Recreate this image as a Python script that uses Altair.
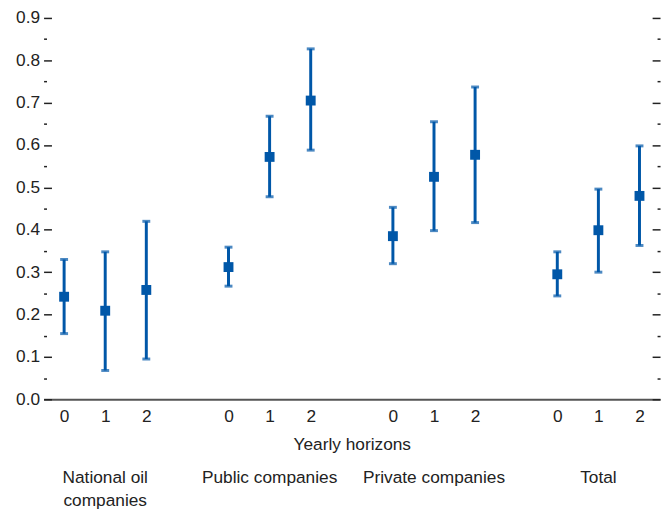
import altair as alt
import pandas as pd

# ---- data ----
groups = ["National oil companies", "Public companies", "Private companies", "Total"]
group_labels = ["National oil\ncompanies", "Public companies", "Private companies", "Total"]
horizons = [0, 1, 2]
estimates = [[0.242, 0.209, 0.258], [0.312, 0.572, 0.705], [0.385, 0.525, 0.577], [0.295, 0.399, 0.480]]
lower = [[0.155, 0.068, 0.095], [0.267, 0.478, 0.588], [0.320, 0.398, 0.417], [0.244, 0.300, 0.363]]
upper = [[0.330, 0.348, 0.420], [0.359, 0.668, 0.827], [0.453, 0.655, 0.737], [0.348, 0.496, 0.598]]
y_major = [0.0, 0.1, 0.2, 0.3, 0.4, 0.5, 0.6, 0.7, 0.8, 0.9]
y_minor = [0.05, 0.15, 0.25, 0.35, 0.45, 0.55, 0.65, 0.75, 0.85]

BLUE = "#0057A8"
FONT = "Liberation Sans"
FS = 17.5
TXT = "#222222"

rows = []
for gi, g in enumerate(groups):
    for hi, h in enumerate(horizons):
        rows.append({"group": g, "h": h, "pos": gi * 4 + hi,
                     "val": estimates[gi][hi], "lo": lower[gi][hi], "hi": upper[gi][hi]})
df = pd.DataFrame(rows)
lab_df = pd.DataFrame({"pos": [gi * 4 + 1 for gi in range(len(groups))], "label": group_labels})

tick_positions = [gi * 4 + h for gi in range(len(groups)) for h in horizons]

xscale = alt.Scale(domain=[-0.5, 14.5], nice=False, zero=False)
yscale = alt.Scale(domain=[0, 0.9], nice=False, zero=True)

x_axis = alt.Axis(values=tick_positions, labelExpr="'' + (datum.value % 4)",
                  ticks=False, domainColor="#555555", domainWidth=2, grid=False,
                  labelFont=FONT, labelFontSize=FS, labelColor=TXT, labelPadding=9,
                  labelAngle=0,
                  title="Yearly horizons", titleFont=FONT, titleFontSize=FS,
                  titleFontWeight="normal", titleColor=TXT, titlePadding=10)

X = alt.X("pos:Q", scale=xscale, axis=x_axis)

left_major = alt.Axis(orient="left", values=y_major, format=".1f", offset=-8, tickSize=8,
                      tickWidth=1.5, tickColor=TXT, domain=False, grid=False, title=None,
                      labelPadding=4, labelFont=FONT, labelFontSize=FS, labelColor=TXT)
left_minor = alt.Axis(orient="left", values=y_minor, labels=False, offset=-3, tickSize=3,
                      tickWidth=1.5, tickColor=TXT, domain=False, grid=False, title=None)
right_major = alt.Axis(orient="right", values=y_major, labels=False, offset=-8, tickSize=8,
                       tickWidth=1.5, tickColor=TXT, domain=False, grid=False, title=None)
right_minor = alt.Axis(orient="right", values=y_minor, labels=False, offset=-3, tickSize=3,
                       tickWidth=1.5, tickColor=TXT, domain=False, grid=False, title=None)

base = alt.Chart(df)

rules = base.mark_rule(strokeWidth=3, color=BLUE).encode(
    x=X, y=alt.Y("lo:Q", scale=yscale, axis=left_major), y2="hi:Q")
caps_hi = base.mark_tick(orient="horizontal", size=8, thickness=3, color=BLUE).encode(
    x=X, y=alt.Y("hi:Q", scale=yscale, axis=left_minor))
caps_lo = base.mark_tick(orient="horizontal", size=8, thickness=3, color=BLUE).encode(
    x=X, y=alt.Y("lo:Q", scale=yscale, axis=right_major))
points = base.mark_square(size=100, color=BLUE, opacity=1).encode(
    x=X, y=alt.Y("val:Q", scale=yscale, axis=right_minor))
labels = alt.Chart(lab_df).mark_text(font=FONT, fontSize=FS, color=TXT, align="center",
                                     baseline="top", lineBreak="\n", lineHeight=23).encode(
    x=X, y=alt.value(457), text="label:N")

chart = alt.layer(rules, caps_hi, caps_lo, points, labels).resolve_axis(y="independent").properties(
    width=624, height=386,
    autosize=alt.AutoSizeParams(type="none"),
    padding={"left": 36, "top": 7, "right": 3, "bottom": 108},
).configure_view(stroke=None)

chart.save("out.html", embed_options={"renderer": "svg", "actions": False})
